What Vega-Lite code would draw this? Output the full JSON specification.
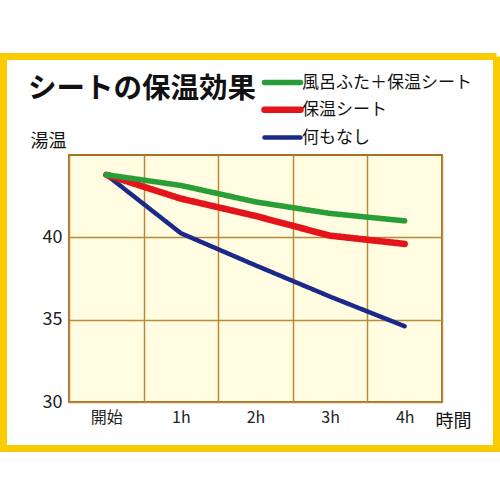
{
  "$schema": "https://vega.github.io/schema/vega-lite/v6.json",
  "autosize": {"type": "none"},
  "width": 373,
  "height": 247,
  "padding": {"left": 69, "top": 155, "right": 58, "bottom": 98},
  "background": "white",
  "title": {
    "text": "シートの保温効果",
    "anchor": "start",
    "frame": "group",
    "baseline": "bottom",
    "dx": -41,
    "offset": -130,
    "font": "Noto Sans CJK JP",
    "fontSize": 28.5,
    "fontWeight": "bold",
    "color": "#111"
  },
  "data": {
    "values": [
      {"series": "何もなし", "time": "開始", "temp": 43.8},
      {"series": "何もなし", "time": "1h", "temp": 40.25},
      {"series": "何もなし", "time": "2h", "temp": 38.3},
      {"series": "何もなし", "time": "3h", "temp": 36.4},
      {"series": "何もなし", "time": "4h", "temp": 34.6},
      {"series": "保温シート", "time": "開始", "temp": 43.8},
      {"series": "保温シート", "time": "1h", "temp": 42.35},
      {"series": "保温シート", "time": "2h", "temp": 41.3},
      {"series": "保温シート", "time": "3h", "temp": 40.1},
      {"series": "保温シート", "time": "4h", "temp": 39.6},
      {"series": "風呂ふた＋保温シート", "time": "開始", "temp": 43.8},
      {"series": "風呂ふた＋保温シート", "time": "1h", "temp": 43.15},
      {"series": "風呂ふた＋保温シート", "time": "2h", "temp": 42.15},
      {"series": "風呂ふた＋保温シート", "time": "3h", "temp": 41.45},
      {"series": "風呂ふた＋保温シート", "time": "4h", "temp": 41.0}
    ]
  },
  "mark": {"type": "line", "strokeCap": "round", "strokeJoin": "round"},
  "encoding": {
    "x": {
      "field": "time",
      "type": "ordinal",
      "bandPosition": 0.5,
      "scale": {"type": "band", "domain": ["開始", "1h", "2h", "3h", "4h"], "paddingInner": 0, "paddingOuter": 0},
      "axis": {
        "title": "時間",
        "titleX": 384,
        "titleY": 19,
        "titleAlign": "center",
        "titleBaseline": "middle",
        "titleFont": "Noto Sans CJK JP",
        "titleFontSize": 18,
        "titleFontWeight": "normal",
        "titleColor": "#111",
        "labelAngle": 0,
        "labelFont": "Noto Sans CJK JP",
        "labelFontSize": 16,
        "labelColor": "#222",
        "labelPadding": 7,
        "ticks": false,
        "domain": false,
        "grid": true,
        "tickBand": "extent",
        "gridColor": "#B9883A",
        "gridWidth": 1.5,
        "gridOpacity": 1
      }
    },
    "y": {
      "field": "temp",
      "type": "quantitative",
      "scale": {"domain": [30, 45], "nice": false, "zero": false},
      "axis": {
        "title": "湯温",
        "titleAngle": 0,
        "titleX": -21,
        "titleY": -14,
        "titleAlign": "center",
        "titleBaseline": "middle",
        "titleFont": "Noto Sans CJK JP",
        "titleFontSize": 18,
        "titleFontWeight": "normal",
        "titleColor": "#111",
        "values": [30, 35, 40],
        "labelFont": "Noto Sans CJK JP",
        "labelFontSize": 18,
        "labelColor": "#222",
        "labelPadding": 7,
        "ticks": false,
        "domain": false,
        "grid": true,
        "gridColor": "#B9883A",
        "gridWidth": 1.5,
        "gridOpacity": 1
      }
    },
    "color": {
      "field": "series",
      "type": "nominal",
      "scale": {
        "domain": ["風呂ふた＋保温シート", "保温シート", "何もなし"],
        "range": ["#2A9E36", "#E3151B", "#1B2A8A"]
      },
      "legend": {
        "orient": "none",
        "legendX": 201,
        "legendY": -84.5,
        "title": null,
        "symbolType": "M-2,0H2",
        "symbolSize": 324,
        "symbolStrokeWidth": 6,
        "symbolOpacity": 1,
        "labelFont": "Noto Sans CJK JP",
        "labelFontSize": 17,
        "labelColor": "#111",
        "labelOffset": 7,
        "labelLimit": 300,
        "rowPadding": 2.75,
        "encode": {"symbols": {"update": {"strokeCap": {"value": "round"}}}}
      }
    },
    "strokeWidth": {
      "field": "series",
      "type": "nominal",
      "scale": {
        "type": "ordinal",
        "domain": ["風呂ふた＋保温シート", "保温シート", "何もなし"],
        "range": [5.5, 6.5, 4.5]
      },
      "legend": null
    },
    "strokeDash": {
      "datum": "枠",
      "type": "nominal",
      "scale": {"range": [[1, 0]]},
      "legend": {
        "orient": "none",
        "legendX": -69,
        "legendY": -152.5,
        "title": null,
        "labelExpr": "''",
        "labelOffset": 0,
        "symbolType": "M-1,-0.795H1V0.795H-1Z",
        "symbolSize": 243049,
        "symbolStrokeColor": "#F9CB00",
        "symbolStrokeWidth": 7,
        "symbolFillColor": "transparent",
        "symbolOpacity": 1,
        "encode": {
          "symbols": {
            "update": {
              "stroke": {"value": "#F9CB00"},
              "strokeWidth": {"value": 7},
              "fill": {"value": "transparent"}
            }
          }
        }
      }
    }
  },
  "config": {
    "view": {"fill": "#FFFCE1", "stroke": "#A8712A", "strokeWidth": 2}
  }
}
